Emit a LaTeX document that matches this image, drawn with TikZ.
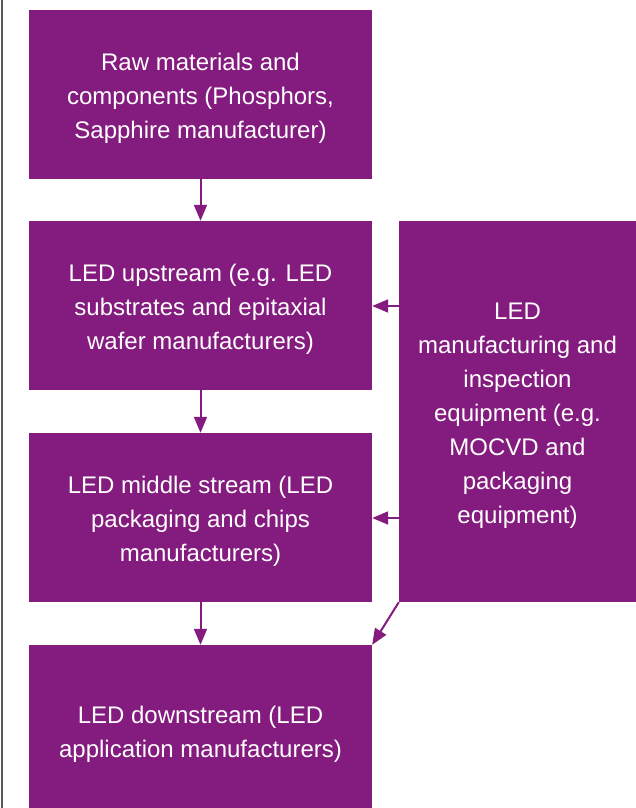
\documentclass[tikz,border=0pt]{standalone}
\usepackage{fontspec}
\setmainfont{Liberation Sans}
\usetikzlibrary{arrows.meta}
\definecolor{ledpurple}{HTML}{841B7E}
\begin{document}
\begin{tikzpicture}[x=1pt,y=-1pt,
  box/.style={fill=ledpurple, draw=none, inner sep=0pt},
  label/.style={text=white, align=center, inner sep=0pt,
    font=\fontsize{24}{34}\selectfont},
  conn/.style={draw=ledpurple, line width=2pt, -{Triangle[length=16pt,width=13pt]}}]
\useasboundingbox (0,0) rectangle (636,808);
\clip (0,0) rectangle (636,808);
\draw[line width=1.5pt, draw=black!65] (2,0) -- (2,808);
\node[box, minimum width=343pt, minimum height=169pt] (b1) at (200.5,94.5) {};
\node[box, minimum width=343pt, minimum height=169pt] (b2) at (200.5,305.5) {};
\node[box, minimum width=343pt, minimum height=169pt] (b3) at (200.5,517.5) {};
\node[box, minimum width=343pt, minimum height=172pt] (b4) at (200.5,731) {};
\node[box, minimum width=237pt, minimum height=381pt] (r) at (517.5,411.5) {};
\node[label] (t1) at (200.5,98.5) {Raw materials and\\components (Phosphors,\\Sapphire manufacturer)};
\node[label] (t2) at (200.5,309.5) {LED upstream (e.g. LED\\substrates and epitaxial\\wafer manufacturers)};
\node[label] (t3) at (200.5,521.5) {LED middle stream (LED\\packaging and chips\\manufacturers)};
\node[label] (t4) at (200.5,734) {LED downstream (LED\\application manufacturers)};
\node[label] (t5) at (517.5,415.5) {LED\\manufacturing and\\inspection\\equipment (e.g.\\MOCVD and\\packaging\\equipment)};
\draw[conn] (b1.south) -- (b2.north);
\draw[conn] (b2.south) -- (b3.north);
\draw[conn] (b3.south) -- (b4.north);
\draw[conn] (r.west |- 0,306) -- (b2.east |- 0,306);
\draw[conn] (r.west |- 0,518) -- (b3.east |- 0,518);
\draw[conn] (r.south west) -- (b4.north east);
\end{tikzpicture}
\end{document}
